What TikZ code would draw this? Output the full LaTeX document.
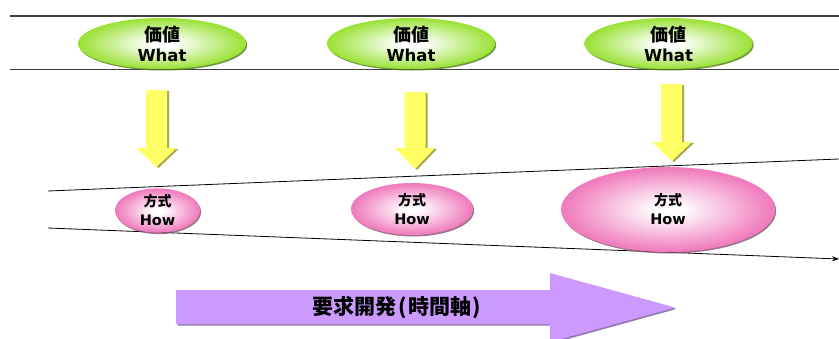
\documentclass[tikz,border=0pt]{standalone}
\usepackage{fontspec}
\setmainfont{DejaVu Sans}
\newfontfamily\jp{Noto Sans CJK JP}
\usetikzlibrary{shadows,arrows.meta,shapes.geometric}
\definecolor{gEdge}{HTML}{94E02A}
\definecolor{gShadow}{HTML}{4F7F10}
\definecolor{pEdge}{HTML}{F07EBE}
\definecolor{pShadow}{HTML}{8A5070}
\definecolor{yFill}{HTML}{FFFF66}
\definecolor{yShadow}{HTML}{9C9C3A}
\definecolor{vFill}{HTML}{CC99FF}
\definecolor{vShadow}{HTML}{7A5A9E}
\definecolor{rule}{HTML}{404040}
\pgfdeclareradialshading{greenball}{\pgfpoint{0bp}{0bp}}{color(0bp)=(white); color(4bp)=(white); color(26bp)=(gEdge); color(50bp)=(gEdge)}
\pgfdeclareradialshading{pinkball}{\pgfpoint{0bp}{0bp}}{color(0bp)=(white); color(3bp)=(white); color(24bp)=(pEdge); color(50bp)=(pEdge)}
\tikzset{
  whatnode/.style={ellipse, shading=greenball, inner sep=0pt,
    minimum width=168pt, minimum height=51pt, align=center,
    drop shadow={shadow xshift=1.2pt, shadow yshift=-1.5pt, fill=gShadow, opacity=0.8},
    font=\bfseries\fontsize{16.5}{20}\selectfont},
  hownode/.style={ellipse, shading=pinkball, inner sep=0pt, align=center,
    drop shadow={shadow xshift=1.2pt, shadow yshift=-1.5pt, fill=pShadow, opacity=0.8},
    font=\bfseries\fontsize{14.5}{19}\selectfont},
  yarrow/.style={fill=yFill,
    drop shadow={shadow xshift=2pt, shadow yshift=-1pt, fill=yShadow, opacity=0.9}},
  rulel/.style={draw=rule, line width=1.5pt},
  slant/.style={draw=black, line width=0.8pt},
}
\begin{document}
\begin{tikzpicture}[x=1pt,y=-1pt]
\useasboundingbox (0,0) rectangle (839,338);
% horizontal rules
\coordinate (r1a) at (10,16); \coordinate (r1b) at (839,16);
\coordinate (r2a) at (10,69.5); \coordinate (r2b) at (839,69.5);
\draw[rulel] (r1a) -- (r1b);
\draw[rulel] (r2a) -- (r2b);
% slanted lines
\coordinate (s1a) at (48,191); \coordinate (s1b) at (839,159);
\coordinate (s2a) at (48,228); \coordinate (s2b) at (839,259);
\draw[slant] (s1a) -- (s1b);
\draw[slant, -{Stealth[length=7pt,width=5pt]}] (s2a) -- (s2b);
% What nodes
\node[whatnode] (w1) at (162,43.5) {{\jp\fontsize{18}{20}\selectfont 価値}\\What};
\node[whatnode] (w2) at (411,43.5) {{\jp\fontsize{18}{20}\selectfont 価値}\\What};
\node[whatnode] (w3) at (668.5,43.5) {{\jp\fontsize{18}{20}\selectfont 価値}\\What};
% yellow arrows
\fill[yarrow] (146,90) -- (167,90) -- (167,148) -- (176.5,148) -- (156.5,167) -- (136.5,148) -- (146,148) -- cycle;
\fill[yarrow] (404.5,92) -- (425.5,92) -- (425.5,148) -- (435,148) -- (415,169) -- (395,148) -- (404.5,148) -- cycle;
\fill[yarrow] (661,84) -- (682,84) -- (682,142) -- (692,142) -- (672,161) -- (652,142) -- (661,142) -- cycle;
% How nodes
\node[hownode, minimum width=85pt, minimum height=39pt] (h1) at (157.5,210.5) {{\jp\fontsize{14}{17}\selectfont 方式}\\How};
\node[hownode, minimum width=122pt, minimum height=52pt] (h2) at (412,209) {{\jp\fontsize{14}{17}\selectfont 方式}\\How};
\node[hownode, minimum width=214pt, minimum height=85pt] (h3) at (668,209.5) {{\jp\fontsize{14}{17}\selectfont 方式}\\How};
% purple arrow
\fill[vFill, drop shadow={shadow xshift=1.5pt, shadow yshift=-1.5pt, fill=vShadow, opacity=0.8}]
  (176,290) -- (550,290) -- (550,273) -- (675,307.5) -- (550,342) -- (550,324) -- (176,324) -- cycle;
\node[font=\jp\bfseries\fontsize{21}{24}\selectfont, inner sep=0pt] (time) at (397,308) {要求開発\kern2pt(\kern1.5pt時間軸\kern1.5pt)};
\end{tikzpicture}
\end{document}
